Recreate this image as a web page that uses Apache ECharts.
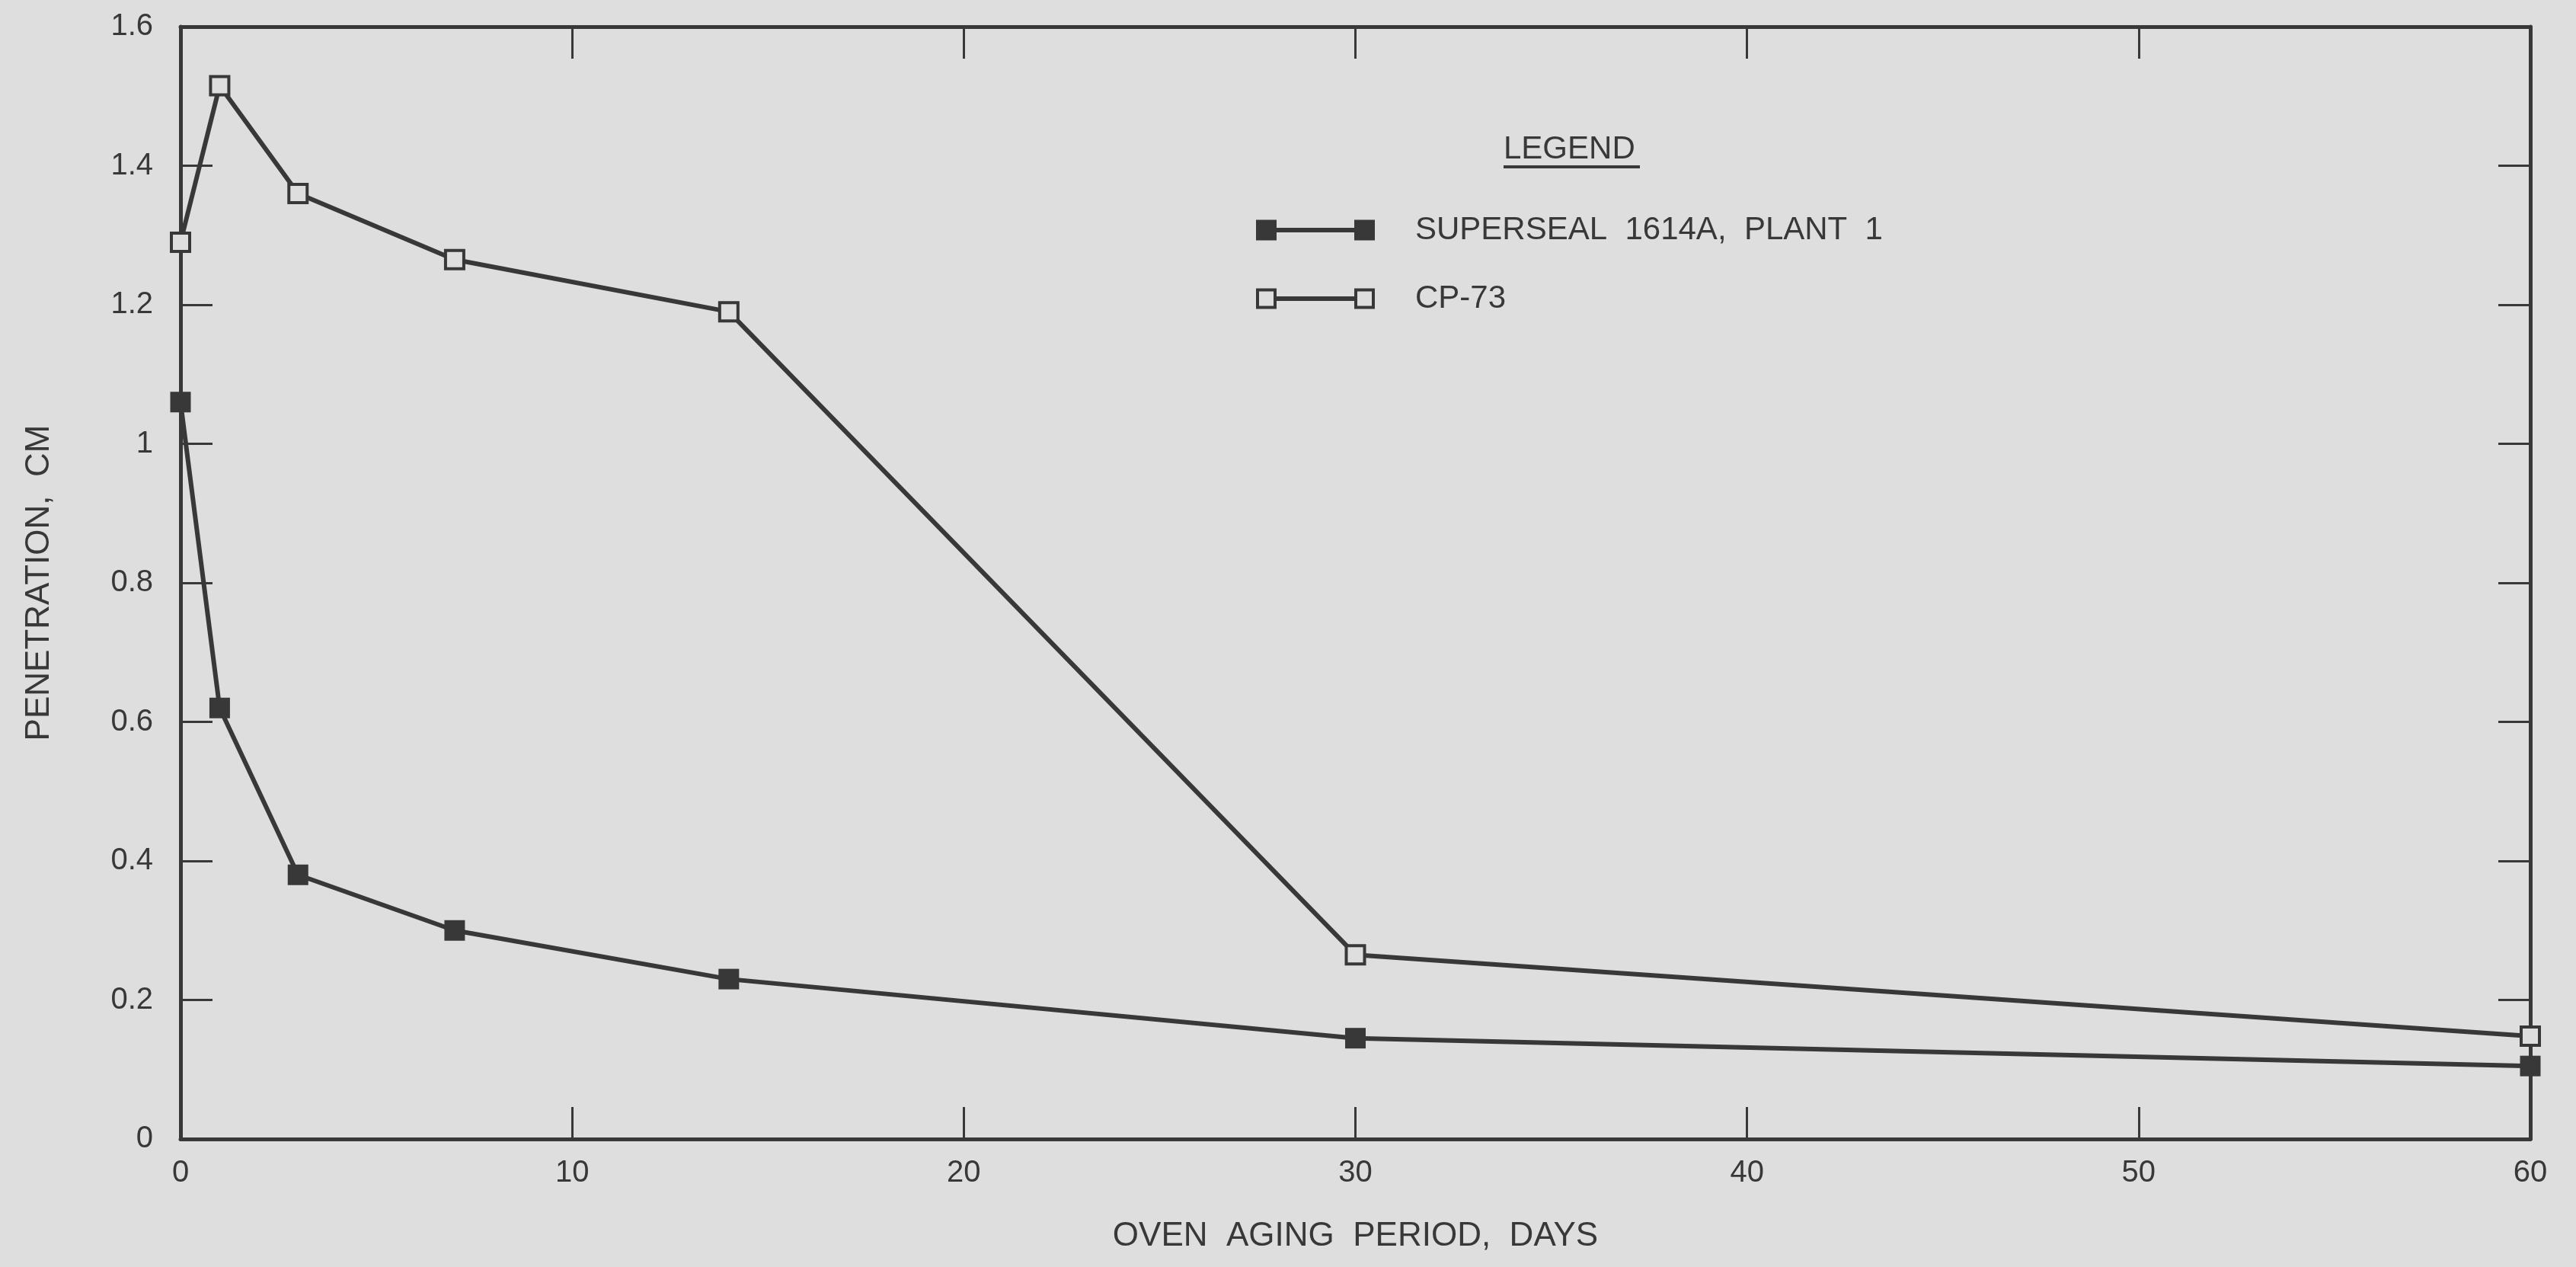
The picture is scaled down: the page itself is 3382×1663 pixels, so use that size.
<!DOCTYPE html>
<html>
<head>
<meta charset="utf-8">
<title>Penetration vs. Oven Aging Period</title>
<script src="https://cdn.jsdelivr.net/npm/echarts@6/dist/echarts.min.js"></script>
<style>
  html, body { margin: 0; padding: 0; background: #dedede; }
  #chart { width: 3382px; height: 1663px; }
</style>
</head>
<body>
<div id="chart"></div>
<script>
// Oven aging period (days) at which penetration was measured
const agingDays = [0, 1, 3, 7, 14, 30, 60];

// Penetration, cm
const superseal1614A = [1.06, 0.62, 0.38, 0.30, 0.23, 0.145, 0.105];
const cp73 = [1.29, 1.515, 1.36, 1.265, 1.19, 0.265, 0.148];

const seriesNames = ['SUPERSEAL 1614A, PLANT 1', 'CP-73'];
const legendLabels = ['SUPERSEAL  1614A,  PLANT  1', 'CP-73'];

const xTitle = 'OVEN  AGING  PERIOD,  DAYS';
const yTitle = 'PENETRATION,  CM';

const ink = '#383838';
const paper = '#dedede';
const font = 'Liberation Sans, Arial, sans-serif';

function pairs(xs, ys) {
  return xs.map((x, i) => [x, ys[i]]);
}

// Legend keys: two square markers joined by a line segment
const filledKey = 'path://M0 0H27V27H0Z M129 0H156V27H129Z M27 10.5H129V16.5H27Z';
const hollowKey = 'path://M0 0H27V27H0Z M4 4V23H23V4Z M129 0H156V27H129Z M133 4V23H152V4Z M27 10.5H129V16.5H27Z';

// Frame lines stay on their own side of the grid instead of snapping to zero
const axisLine = { show: true, onZero: false, lineStyle: { color: ink, width: 5 } };
const axisTick = { show: true, inside: true, length: 42, lineStyle: { color: ink, width: 3 } };

const chart = echarts.init(document.getElementById('chart'), null, { renderer: 'canvas' });

chart.setOption({
  backgroundColor: paper,
  animation: false,
  grid: { left: 237, right: 60, top: 35, bottom: 168 },
  xAxis: [
    {
      type: 'value', position: 'bottom', min: 0, max: 60, interval: 10,
      axisLine, axisTick, splitLine: { show: false },
      axisLabel: { color: ink, fontFamily: font, fontSize: 40, margin: 25 },
      name: xTitle, nameLocation: 'middle', nameGap: 106,
      nameTextStyle: { color: ink, fontFamily: font, fontSize: 44 }
    },
    {
      type: 'value', position: 'top', min: 0, max: 60, interval: 10,
      axisLine, axisTick, splitLine: { show: false },
      axisLabel: { show: false }
    }
  ],
  yAxis: [
    {
      type: 'value', position: 'left', min: 0, max: 1.6, interval: 0.2,
      axisLine, axisTick, splitLine: { show: false },
      axisLabel: { color: ink, fontFamily: font, fontSize: 40, margin: 36 },
      name: yTitle, nameLocation: 'middle', nameGap: 163, nameRotate: 90,
      nameTextStyle: { color: ink, fontFamily: font, fontSize: 44 }
    },
    {
      type: 'value', position: 'right', min: 0, max: 1.6, interval: 0.2,
      axisLine, axisTick, splitLine: { show: false },
      axisLabel: { show: false }
    }
  ],
  legend: {
    orient: 'vertical',
    left: 1644,
    top: 276,
    itemWidth: 156,
    itemHeight: 27,
    itemGap: 48,
    selectedMode: false,
    itemStyle: { color: ink, borderWidth: 0 },
    textStyle: { color: ink, fontFamily: font, fontSize: 42, lineHeight: 42, padding: [0, 0, 0, 48] },
    formatter: name => legendLabels[seriesNames.indexOf(name)],
    data: [
      { name: seriesNames[0], icon: filledKey },
      { name: seriesNames[1], icon: hollowKey }
    ]
  },
  graphic: [
    {
      type: 'text', left: 1974, top: 175,
      style: { text: 'LEGEND', fill: ink, font: '42px ' + font }
    },
    {
      type: 'line',
      shape: { x1: 1974, y1: 219, x2: 2153, y2: 219 },
      style: { stroke: ink, lineWidth: 4 }
    }
  ],
  series: [
    {
      name: seriesNames[0],
      type: 'line',
      data: pairs(agingDays, superseal1614A),
      symbol: 'rect',
      symbolSize: 27,
      clip: false,
      lineStyle: { color: ink, width: 6 },
      itemStyle: { color: ink, borderWidth: 0 }
    },
    {
      name: seriesNames[1],
      type: 'line',
      data: pairs(agingDays, cp73),
      symbol: 'rect',
      symbolSize: 24,
      clip: false,
      lineStyle: { color: ink, width: 6 },
      itemStyle: { color: paper, borderColor: ink, borderWidth: 4 }
    }
  ]
});
</script>
</body>
</html>
